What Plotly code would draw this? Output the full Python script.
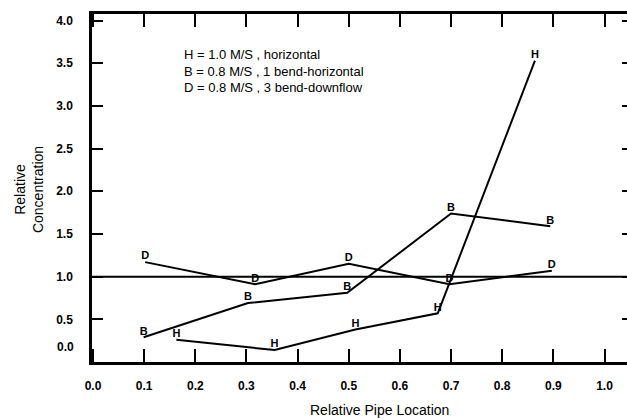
import plotly.graph_objects as go

# --- data ---
h_x = [0.163, 0.355, 0.513, 0.674, 0.864]
h_y = [0.26, 0.14, 0.38, 0.57, 3.53]

b_x = [0.099, 0.303, 0.497, 0.700, 0.894]
b_y = [0.29, 0.69, 0.81, 1.74, 1.59]

d_x = [0.102, 0.317, 0.500, 0.697, 0.897]
d_y = [1.17, 0.91, 1.15, 0.91, 1.07]

reference_level = 1.0

x_ticks = [0.0, 0.1, 0.2, 0.3, 0.4, 0.5, 0.6, 0.7, 0.8, 0.9, 1.0]
y_ticks = [0.5, 1.0, 1.5, 2.0, 2.5, 3.0, 3.5, 4.0]

legend_lines = [
    "H = 1.0 M/S , horizontal",
    "B = 0.8 M/S , 1 bend-horizontal",
    "D = 0.8 M/S , 3 bend-downflow",
]

FONT = "Arial"
letter_font = dict(family=FONT, size=11, color="black", weight="bold")
Y_RANGE = [0, 4.077]

fig = go.Figure()
for xs, ys, letter in [(h_x, h_y, "H"), (b_x, b_y, "B"), (d_x, d_y, "D")]:
    fig.add_trace(go.Scatter(
        x=xs, y=ys, mode="lines+text",
        text=[letter] * len(xs), textposition="top center",
        textfont=letter_font,
        line=dict(color="black", width=2),
        showlegend=False, hoverinfo="skip", cliponaxis=False,
    ))

# empty trace so the right-hand tick axis is drawn
fig.add_trace(go.Scatter(x=[None], y=[None], yaxis="y2", showlegend=False,
                         hoverinfo="skip"))

fig.add_shape(type="line", xref="x domain", yref="y",
              x0=0, x1=1, y0=reference_level, y1=reference_level,
              line=dict(color="black", width=2))

fig.update_layout(
    width=627, height=419,
    margin=dict(l=92, r=0, t=14, b=57),
    paper_bgcolor="white", plot_bgcolor="white",
    font=dict(family=FONT, color="black"),
    yaxis2=dict(overlaying="y", side="right", range=Y_RANGE,
                tickvals=y_ticks, ticks="inside", ticklen=5, tickwidth=2,
                tickcolor="black", showticklabels=False, showline=False,
                showgrid=False, zeroline=False),
)
fig.update_xaxes(
    range=[-0.002, 1.044], tickvals=x_ticks,
    ticktext=[f"{v:.1f}" for v in x_ticks],
    ticks="inside", ticklen=13, tickwidth=2, tickcolor="black",
    showline=True, linewidth=2.5, linecolor="black", mirror="ticks",
    showgrid=False, zeroline=False,
    tickfont=dict(family=FONT, size=12, weight="bold"),
    ticklabelstandoff=11,
)
fig.update_yaxes(
    selector=dict(), overwrite=False,
)
fig.update_layout(yaxis=dict(
    range=Y_RANGE, tickvals=y_ticks,
    ticktext=[f"{v:.1f}" for v in y_ticks],
    ticks="inside", ticklen=11, tickwidth=2, tickcolor="black",
    showline=True, linewidth=2.5, linecolor="black", mirror=False,
    showgrid=False, zeroline=False,
    tickfont=dict(family=FONT, size=12, weight="bold"),
    ticklabelstandoff=14,
))

# "0.0" y label (drawn slightly above the axis as in the original)
fig.add_annotation(text="0.0", xref="paper", yref="y", x=0, y=0.176,
                   xanchor="right", yanchor="middle", xshift=-16,
                   showarrow=False,
                   font=dict(family=FONT, size=12, weight="bold"))

# axis titles
fig.add_annotation(text="Relative<br>Concentration", xref="paper", yref="paper",
                   x=0, y=0.494, xshift=-63, xanchor="center", yanchor="middle",
                   textangle=-90, showarrow=False,
                   font=dict(family=FONT, size=14))
fig.add_annotation(text="Relative Pipe Location", xref="paper", yref="paper",
                   x=0.538, y=-0.138, xanchor="center", yanchor="middle",
                   showarrow=False, font=dict(family=FONT, size=14))

# in-plot key
for line, ypx in zip(legend_lines, [54.5, 71, 87.5]):
    fig.add_annotation(text=line, xref="paper", yref="paper",
                       x=(182 - 92) / 535, y=(362 - ypx) / 348,
                       xanchor="left", yanchor="middle", showarrow=False,
                       font=dict(family=FONT, size=13))

fig.write_html("out.html")
